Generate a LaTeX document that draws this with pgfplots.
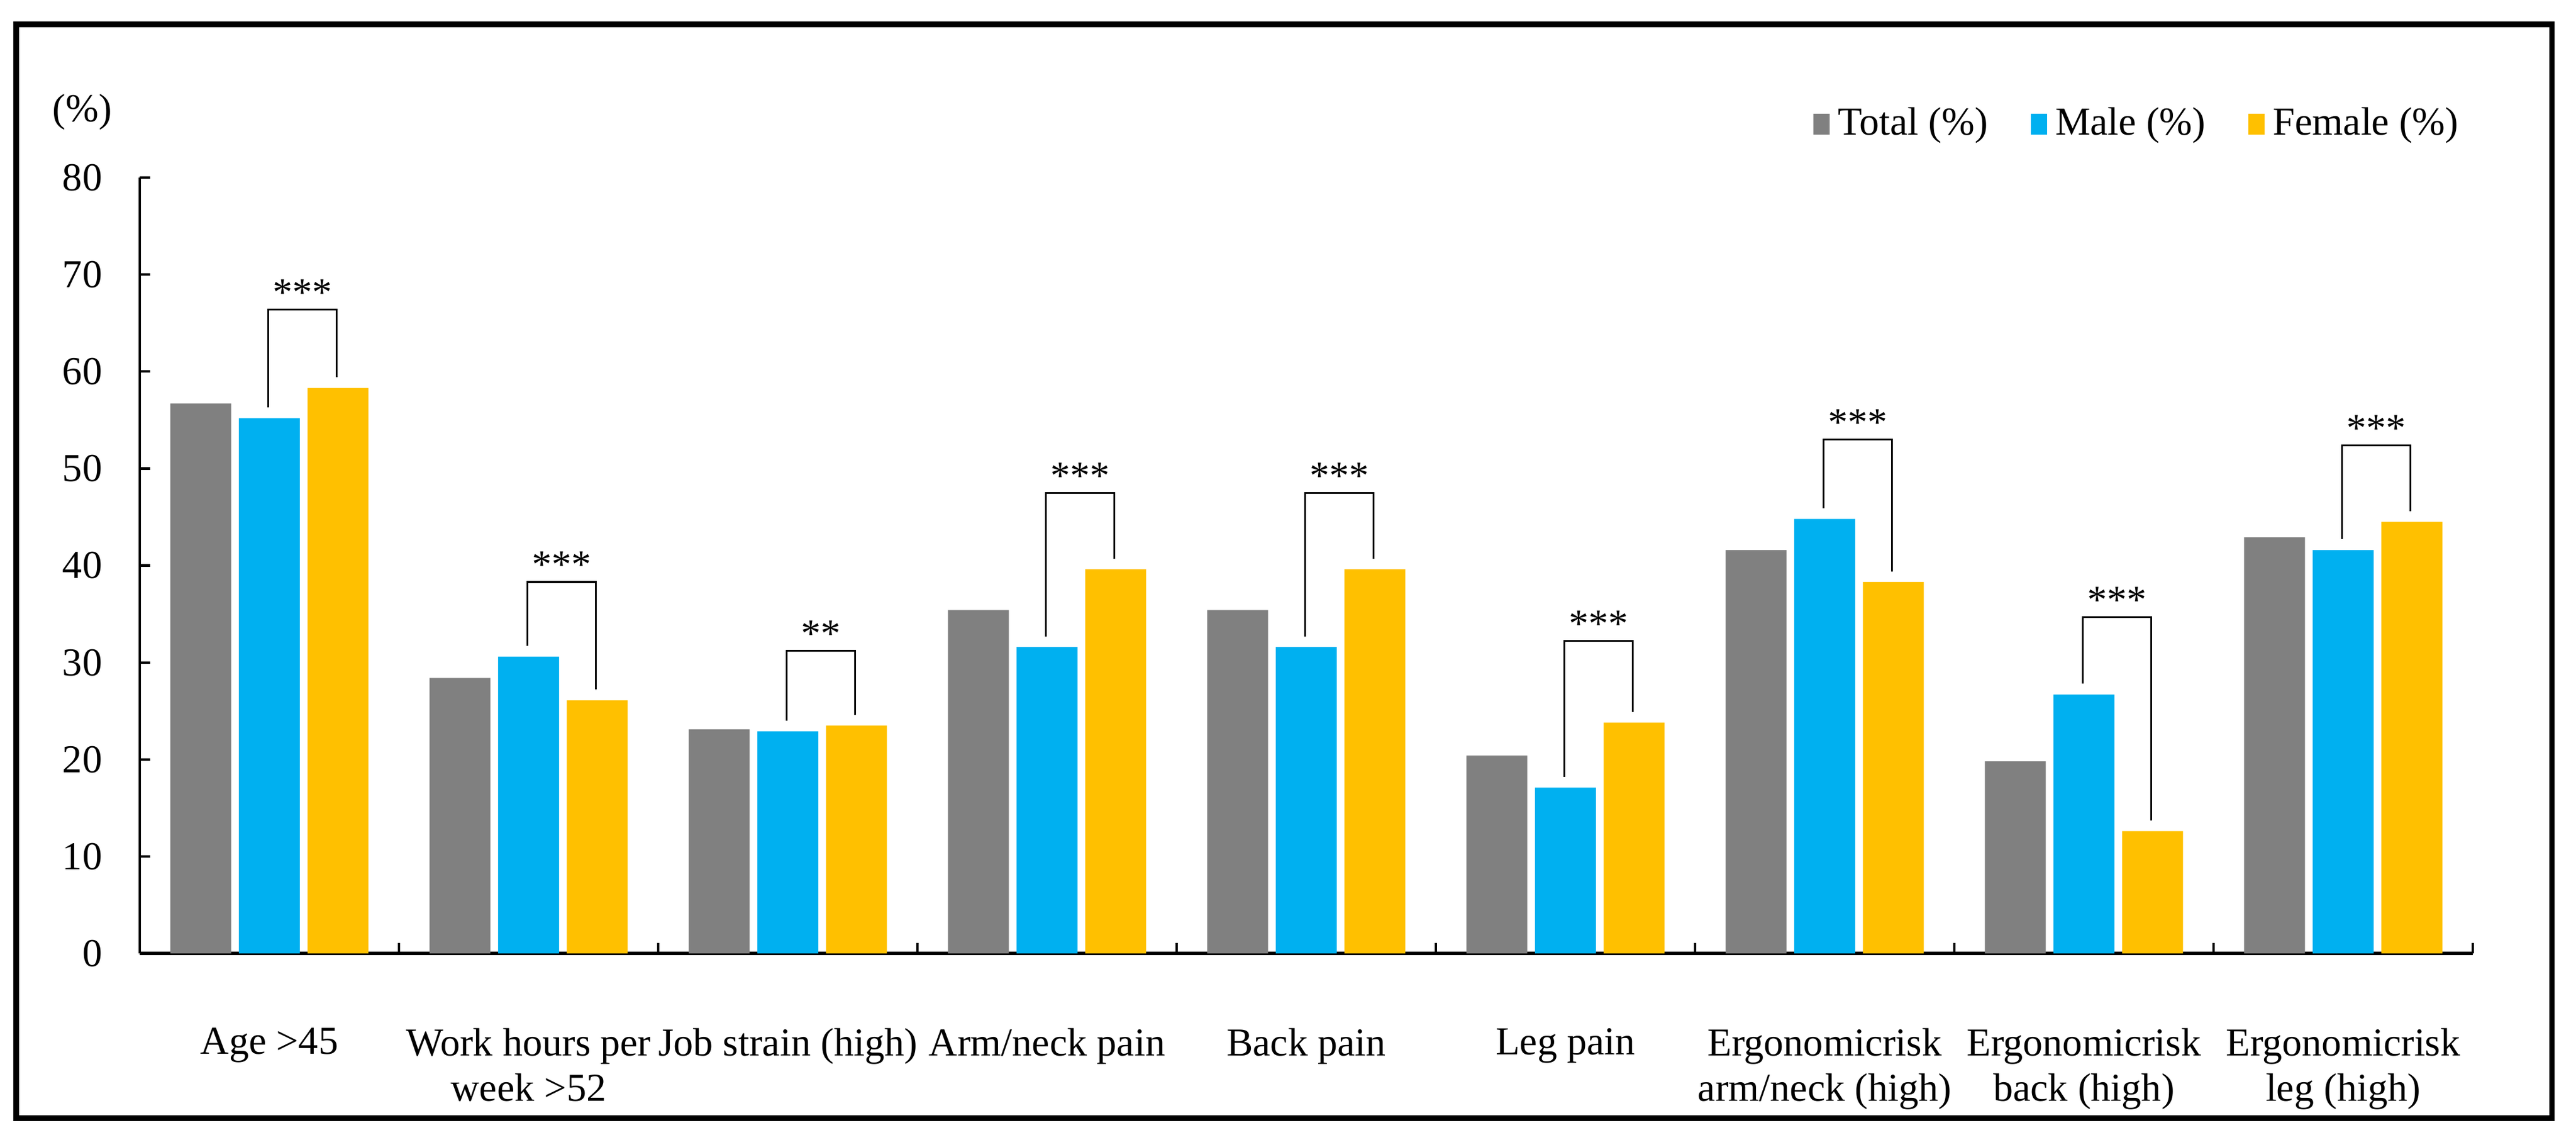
\documentclass[border=0pt]{standalone}
\usepackage{fontspec}
\setmainfont{Liberation Serif}
\usepackage{pgfplots}
\pgfplotsset{compat=1.18}
\usepackage{pgfplotstable}

\definecolor{cTotal}{HTML}{808080}
\definecolor{cMale}{HTML}{00B0F0}
\definecolor{cFemale}{HTML}{FFC000}

% group total male female
\pgfplotstableread{
x total male female
0 56.7 55.2 58.3
1 28.4 30.6 26.1
2 23.1 22.9 23.5
3 35.4 31.6 39.6
4 35.4 31.6 39.6
5 20.4 17.1 23.8
6 41.6 44.8 38.3
7 19.8 26.7 12.6
8 42.9 41.6 44.5
}\data

% significance bracket: group, male value, female value, bracket top, stars
\newcommand\sig[5]{%
  \draw[line width=0.45pt] (axis cs:#1-0.005,#2+1.1) |- (axis cs:#1+0.26,#4) -- (axis cs:#1+0.26,#3+1.1);
  \node[anchor=base, inner sep=0pt, yshift=1pt] at (axis cs:#1+0.128,#4) {#5};}

\begin{document}
\begin{tikzpicture}[font=\fontsize{9.7}{11.2}\selectfont]
\path (0,0) rectangle (22.21,9.775);
\draw[line width=1.3pt] (0.14,0.14) rectangle (22.0,9.565);
\node at (0.71,8.81) {(\%)};
\begin{axis}[
  at={(1.205cm,1.56cm)}, anchor=south west,
  scale only axis, width=20.115cm, height=6.685cm,
  xmin=-0.5, xmax=8.5, ymin=0, ymax=80,
  axis x line*=bottom, axis y line*=left,
  x axis line style={line width=0.9pt},
  y axis line style={line width=0.6pt},
  tick align=inside,
  ytick={0,10,...,80},
  major tick length=0.09cm,
  tick style={line width=0.6pt, black},
  yticklabel style={xshift=-0.2cm},
  xtick={-0.5,0.5,...,8.5},
  xticklabels={},
  extra x ticks={0,1,...,8},
  extra x tick labels={Age >45, Work hours per\\week >52, Job strain (high), Arm/neck pain, Back pain, Leg pain, Ergonomicrisk\\arm/neck (high), Ergonomicrisk\\back (high), Ergonomicrisk\\leg (high)},
  extra x tick style={major tick length=0pt},
  xticklabel style={align=center, yshift=-0.52cm},
  /pgf/number format/assume math mode=true,
  legend columns=3,
  legend style={draw=none, at={(1,1)}, anchor=east, xshift=0.06cm, yshift=0.46cm,
    /tikz/every even column/.append style={column sep=0.3cm}},
  legend image code/.code={\fill[#1] (0cm,-0.09cm) rectangle (0.14cm,0.09cm);},
]
\addplot[ybar, bar width=0.235, bar shift=-0.265, fill=cTotal, draw=none] table[x=x,y=total]{\data};
\addlegendentry{Total (\%)}
\addplot[ybar, bar width=0.235, bar shift=0, fill=cMale, draw=none] table[x=x,y=male]{\data};
\addlegendentry{Male (\%)}
\addplot[ybar, bar width=0.235, bar shift=0.265, fill=cFemale, draw=none] table[x=x,y=female]{\data};
\addlegendentry{Female (\%)}

\sig{0}{55.2}{58.3}{66.4}{***}
\sig{1}{30.6}{26.1}{38.3}{***}
\sig{2}{22.9}{23.5}{31.2}{**}
\sig{3}{31.6}{39.6}{47.5}{***}
\sig{4}{31.6}{39.6}{47.5}{***}
\sig{5}{17.1}{23.8}{32.2}{***}
\sig{6}{44.8}{38.3}{53.0}{***}
\sig{7}{26.7}{12.6}{34.7}{***}
\sig{8}{41.6}{44.5}{52.4}{***}
\end{axis}
\end{tikzpicture}
\end{document}
